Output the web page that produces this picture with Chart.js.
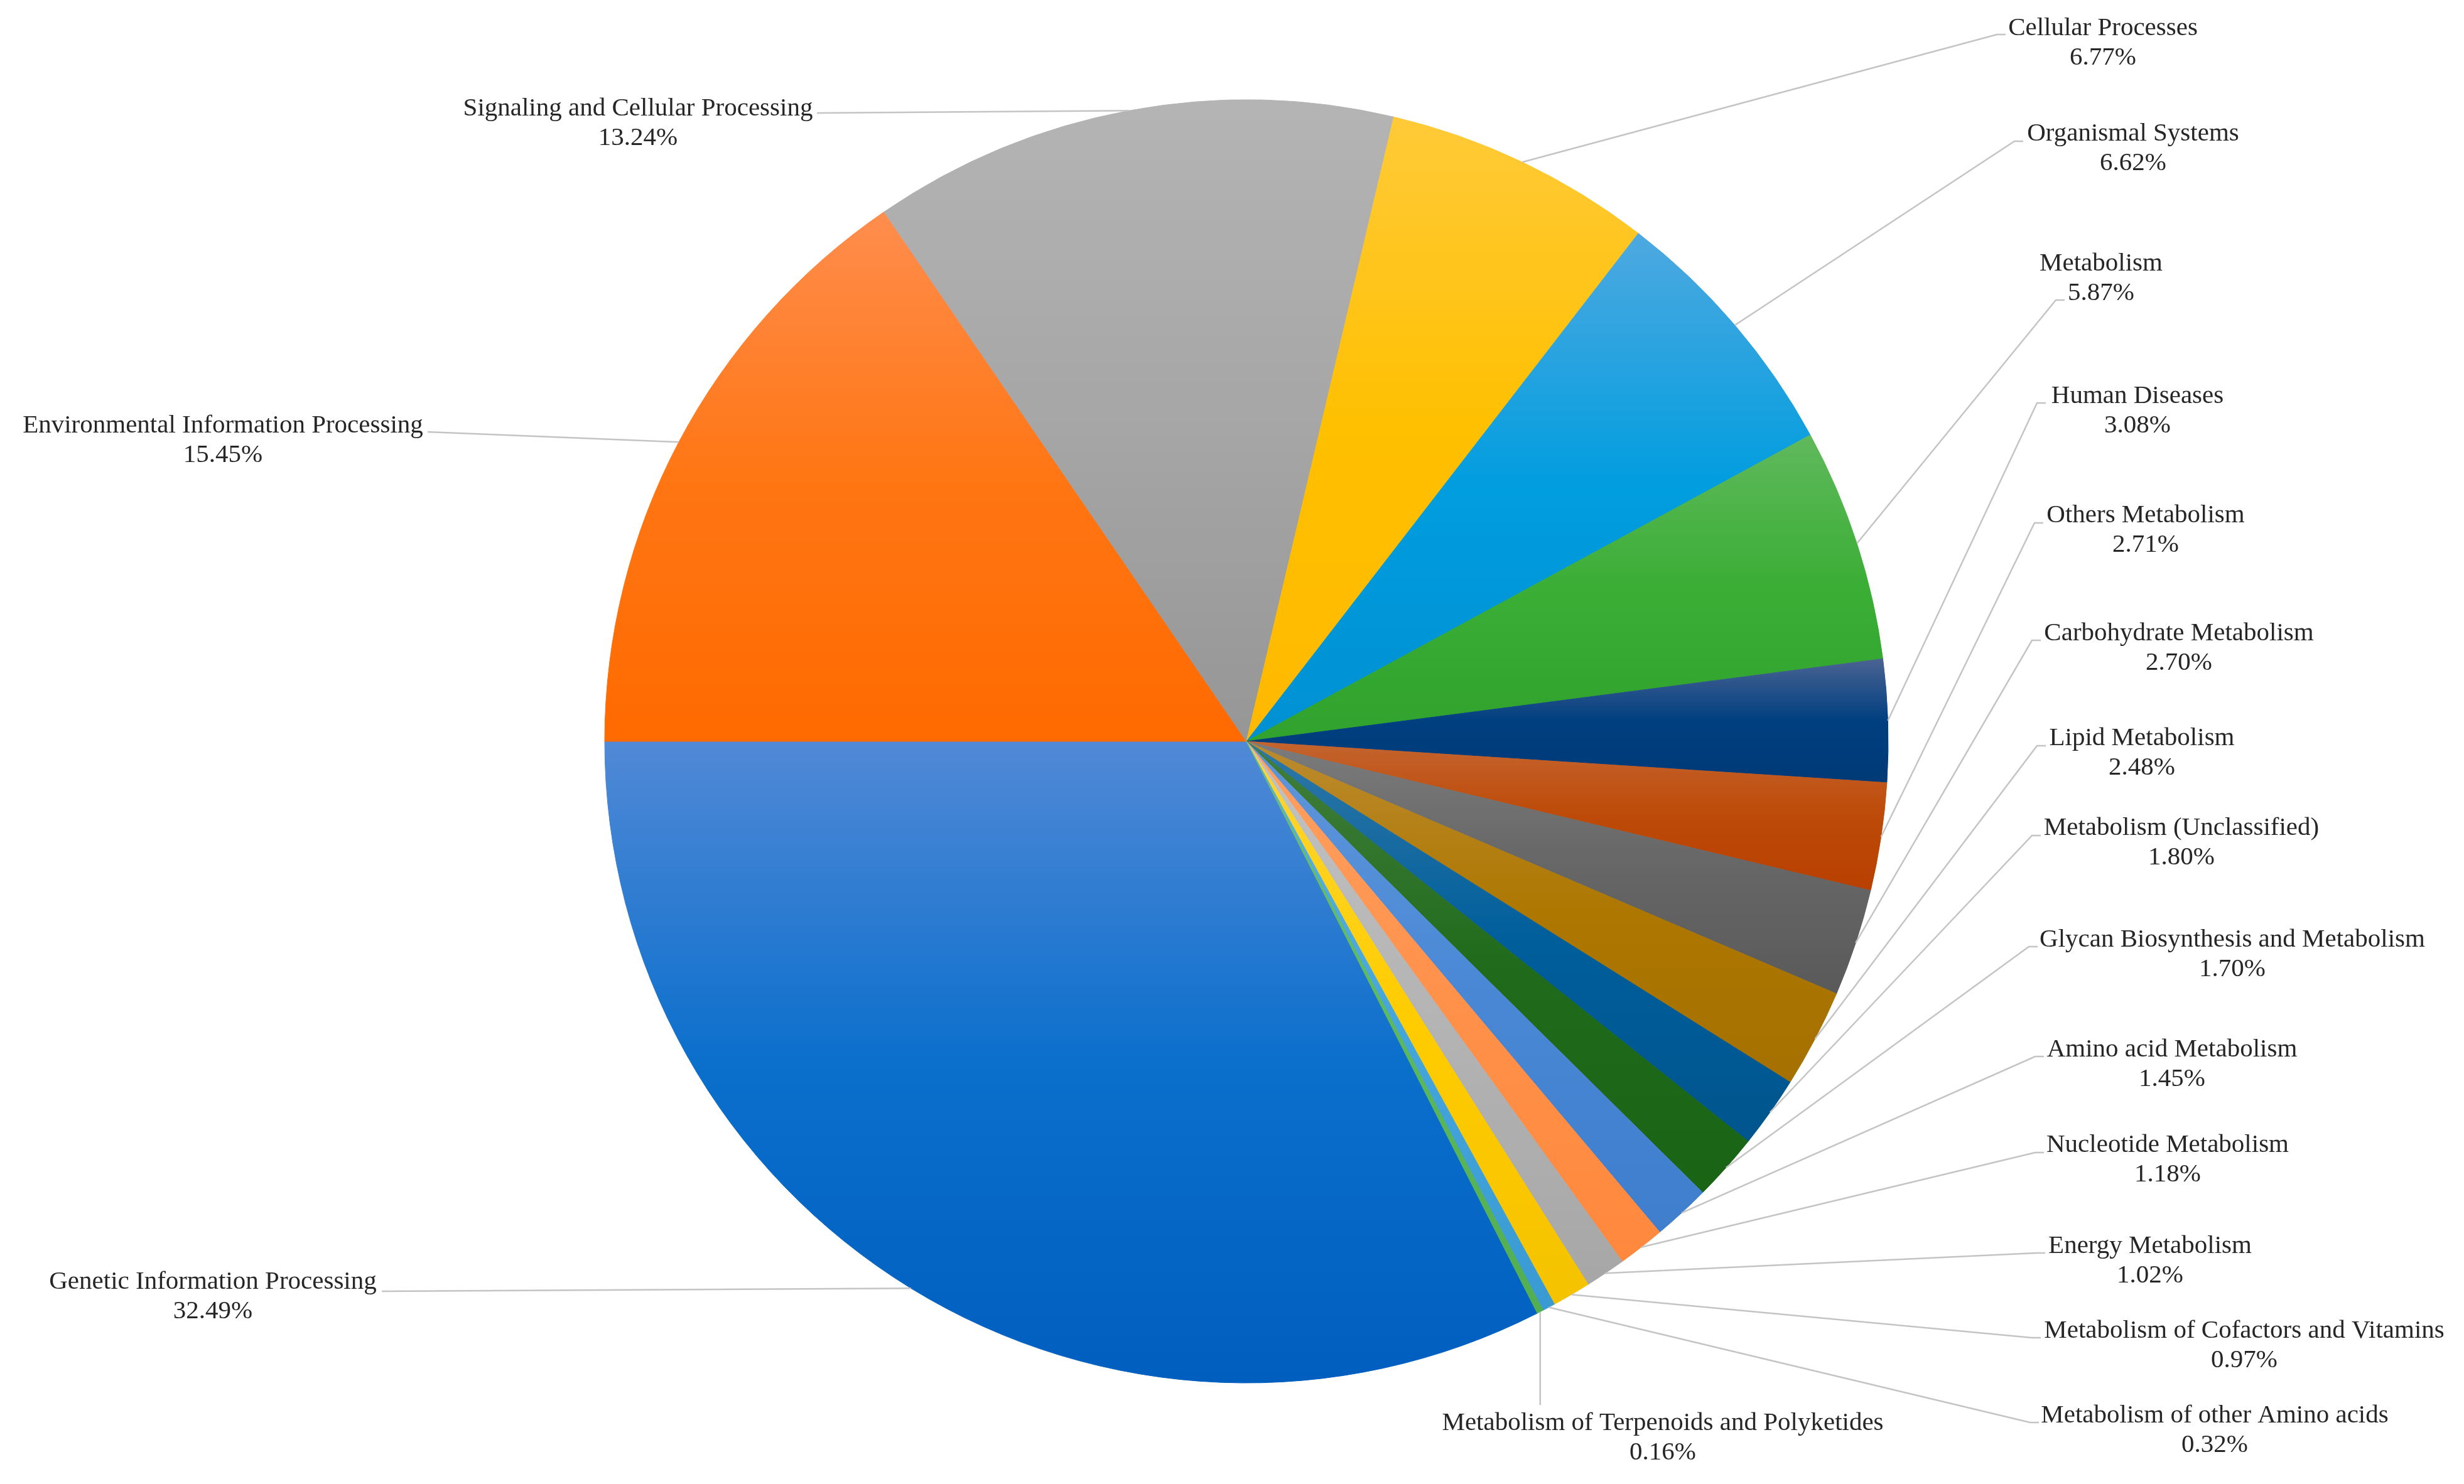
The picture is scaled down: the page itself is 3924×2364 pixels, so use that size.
<!DOCTYPE html>
<html>
<head>
<meta charset="utf-8">
<script src="https://cdn.jsdelivr.net/npm/chart.js@4.4.1/dist/chart.umd.min.js"></script>
<style>
  html, body { margin: 0; padding: 0; background: #ffffff; }
  #wrap { width: 3924px; height: 2364px; position: relative; }
</style>
</head>
<body>
<div id="wrap"><canvas id="c" width="3924" height="2364"></canvas></div>
<script>
// ---------------- DATA ----------------
const categories = [
  "Genetic Information Processing",
  "Environmental Information Processing",
  "Signaling and Cellular Processing",
  "Cellular Processes",
  "Organismal Systems",
  "Metabolism",
  "Human Diseases",
  "Others Metabolism",
  "Carbohydrate Metabolism",
  "Lipid Metabolism",
  "Metabolism (Unclassified)",
  "Glycan Biosynthesis and Metabolism",
  "Amino acid Metabolism",
  "Nucleotide Metabolism",
  "Energy Metabolism",
  "Metabolism of Cofactors and Vitamins",
  "Metabolism of other Amino acids",
  "Metabolism of Terpenoids and Polyketides"
];
const values = [32.49, 15.45, 13.24, 6.77, 6.62, 5.87, 3.08, 2.71, 2.70, 2.48, 1.80, 1.70, 1.45, 1.18, 1.02, 0.97, 0.32, 0.16];

// ---------------- STYLE ----------------
// [light (top), base, dark (bottom)] per slice
const sliceColors = [
  ["#5189d6", "#0b6fcc", "#005ebf"],
  ["#ff8d4d", "#ff7614", "#ff6a00"],
  ["#b4b4b4", "#a6a6a6", "#969696"],
  ["#ffca38", "#ffc000", "#ffb900"],
  ["#4ea9e0", "#009ddf", "#0090d2"],
  ["#60b95c", "#3aae35", "#30a22d"],
  ["#4a6392", "#003f80", "#003a77"],
  ["#c4642f", "#bd4a08", "#b84000"],
  ["#7b7b7b", "#666666", "#5a5a5a"],
  ["#bc8b2f", "#ad7700", "#a57000"],
  ["#2f78a7", "#005e9b", "#00558d"],
  ["#427e3d", "#206b1b", "#1a6415"],
  ["#5f96da", "#4a88d6", "#3f7ecc"],
  ["#ffa062", "#ff914a", "#ff883d"],
  ["#c2c2c2", "#b4b4b4", "#a7a7a7"],
  ["#ffd633", "#ffcc00", "#f5c200"],
  ["#5cb1e1", "#45a6dc", "#3a9ad3"],
  ["#6dc06b", "#5db85b", "#52ae50"]
];
// label layout: [centerX, firstLineY, attachX, attachY, side]
const labelLayout = [
  [339, 2042, 608, 2057, "L"],
  [355, 678, 681, 688, "L"],
  [1016, 173, 1301, 180, "L"],
  [3349, 45, 3194, 55, "R"],
  [3397, 213, 3222, 225, "R"],
  [3346, 420, 3288, 478, "R"],
  [3404, 631, 3258, 642, "R"],
  [3417, 821, 3254, 833, "R"],
  [3470, 1009, 3250, 1020, "R"],
  [3411, 1176, 3258, 1188, "R"],
  [3474, 1319, 3250, 1331, "R"],
  [3555, 1497, 3245, 1508, "R"],
  [3459, 1672, 3255, 1683, "R"],
  [3452, 1824, 3255, 1836, "R"],
  [3424, 1985, 3257, 1996, "R"],
  [3574, 2120, 3250, 2131, "R"],
  [3527, 2255, 3247, 2266, "R"],
  [2648, 2267, null, 2238, "T"]
];
const FONT = "41px 'Liberation Serif', 'Times New Roman', serif";
const LINE_GAP = 47.5;
const TEXT_COLOR = "#262626";
const LEADER_COLOR = "#c4c4c4";

const total = values.reduce((a, b) => a + b, 0);
// Environmental Information Processing begins at 9 o'clock
const rotationDeg = 270 - values[0] / total * 360;

const gradientPlugin = {
  id: "sliceGradient",
  beforeDatasetsDraw(chart) {
    const ctx = chart.ctx;
    const meta = chart.getDatasetMeta(0);
    meta.data.forEach((arc, i) => {
      const p = arc.getProps(["x", "y", "startAngle", "endAngle", "outerRadius"], true);
      const ys = [p.y, p.y + p.outerRadius * Math.sin(p.startAngle), p.y + p.outerRadius * Math.sin(p.endAngle)];
      const twoPi = Math.PI * 2;
      const inArc = (a) => {
        let s = p.startAngle, e = p.endAngle;
        let t = a;
        while (t < s) t += twoPi;
        while (t > s + twoPi) t -= twoPi;
        return t <= e;
      };
      if (inArc(-Math.PI / 2)) ys.push(p.y - p.outerRadius);
      if (inArc(Math.PI / 2)) ys.push(p.y + p.outerRadius);
      const minY = Math.min(...ys), maxY = Math.max(...ys);
      const g = ctx.createLinearGradient(0, minY, 0, Math.max(maxY, minY + 1));
      const c = sliceColors[i];
      g.addColorStop(0, c[0]);
      g.addColorStop(0.5, c[1]);
      g.addColorStop(1, c[2]);
      arc.options.backgroundColor = g;
      arc.options.borderColor = g;
    });
  }
};

const labelPlugin = {
  id: "leaderLabels",
  afterDatasetsDraw(chart) {
    const ctx = chart.ctx;
    const meta = chart.getDatasetMeta(0);
    ctx.save();
    ctx.font = FONT;
    meta.data.forEach((arc, i) => {
      const p = arc.getProps(["x", "y", "startAngle", "endAngle", "outerRadius"], true);
      const mid = (p.startAngle + p.endAngle) / 2;
      const ax = p.x + p.outerRadius * Math.cos(mid);
      const ay = p.y + p.outerRadius * Math.sin(mid);
      const [cx, y1, tx, ty, side] = labelLayout[i];
      // leader line
      ctx.strokeStyle = LEADER_COLOR;
      ctx.lineWidth = 2.5;
      ctx.beginPath();
      ctx.moveTo(ax, ay);
      if (side === "R") {
        ctx.lineTo(tx - 14, ty);
        ctx.lineTo(tx, ty);
      } else if (side === "L") {
        ctx.lineTo(tx, ty);
      } else {
        ctx.lineTo(ax, ty);
      }
      ctx.stroke();
      // text
      ctx.fillStyle = TEXT_COLOR;
      ctx.textAlign = "center";
      ctx.textBaseline = "middle";
      ctx.fillText(categories[i], cx, y1);
      ctx.fillText(values[i].toFixed(2) + "%", cx, y1 + LINE_GAP);
    });
    ctx.restore();
  }
};

const R = 1022, CX = 1985, CY = 1181, W = 3924, H = 2364;
new Chart(document.getElementById("c"), {
  type: "pie",
  data: {
    labels: categories,
    datasets: [{
      data: values,
      backgroundColor: sliceColors.map(c => c[1]),
      borderColor: sliceColors.map(c => c[1]),
      borderWidth: 1
    }]
  },
  options: {
    responsive: false,
    animation: false,
    rotation: rotationDeg,
    layout: {
      padding: {
        left: CX - R - 0.5,
        right: W - CX - R - 0.5,
        top: CY - R - 0.5,
        bottom: H - CY - R - 0.5
      }
    },
    plugins: {
      legend: { display: false },
      tooltip: { enabled: false },
      title: { display: false }
    }
  },
  plugins: [gradientPlugin, labelPlugin]
});
</script>
</body>
</html>
